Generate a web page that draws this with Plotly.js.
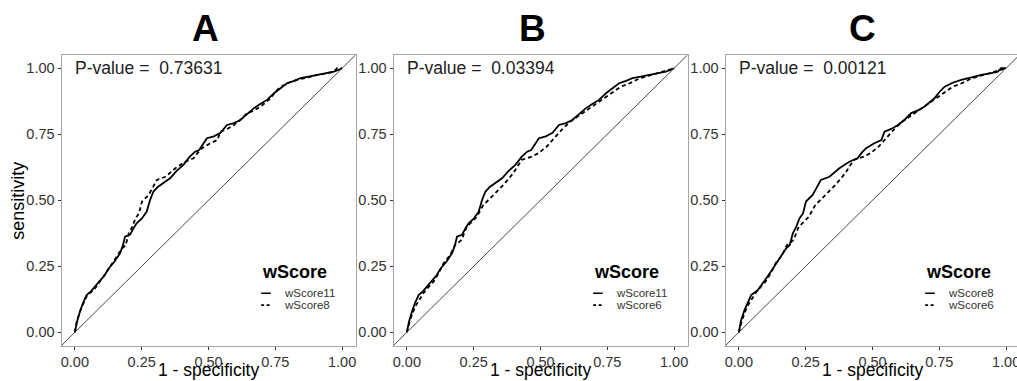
<!DOCTYPE html>
<html><head><meta charset="utf-8">
<script src="https://cdn.plot.ly/plotly-3.0.1.min.js"></script>
<style>html,body{margin:0;padding:0;overflow:hidden;background:#fff}#chart{width:1030px;height:381px}</style>
</head><body><div id="chart"></div>
<script>
// ---- data ----
const panelLabels = ["A", "B", "C"];
const pValues = ["0.73631", "0.03394", "0.00121"];
const solidSeries = ["wScore11", "wScore11", "wScore8"];
const dashedSeries = ["wScore8", "wScore6", "wScore6"];

const wScore11_fpr = [0, 0.008, 0.019, 0.03, 0.044, 0.06, 0.075, 0.09, 0.112, 0.125, 0.137, 0.15, 0.169, 0.18, 0.1875, 0.206, 0.22, 0.231, 0.25, 0.269, 0.281, 0.294, 0.31, 0.33, 0.356, 0.38, 0.406, 0.43, 0.45, 0.465, 0.48, 0.494, 0.52, 0.545, 0.569, 0.595, 0.619, 0.645, 0.669, 0.695, 0.719, 0.745, 0.769, 0.794, 0.82, 0.844, 0.875, 0.906, 0.94, 0.969, 0.99, 1];
const wScore11_tpr = [0, 0.04, 0.078, 0.11, 0.141, 0.155, 0.173, 0.19, 0.217, 0.24, 0.255, 0.27, 0.299, 0.33, 0.362, 0.369, 0.395, 0.413, 0.43, 0.457, 0.50, 0.533, 0.55, 0.565, 0.583, 0.61, 0.634, 0.665, 0.684, 0.69, 0.715, 0.735, 0.742, 0.755, 0.785, 0.792, 0.804, 0.825, 0.848, 0.865, 0.88, 0.905, 0.924, 0.943, 0.952, 0.962, 0.968, 0.975, 0.98, 0.987, 0.995, 1];

const wScore8_fpr = [0, 0.008, 0.021, 0.035, 0.046, 0.071, 0.09, 0.102, 0.12, 0.139, 0.16, 0.177, 0.19, 0.202, 0.215, 0.227, 0.24, 0.251, 0.276, 0.29, 0.307, 0.339, 0.376, 0.413, 0.444, 0.46, 0.476, 0.505, 0.533, 0.545, 0.57, 0.595, 0.62, 0.645, 0.67, 0.695, 0.732, 0.75, 0.77, 0.8, 0.832, 0.87, 0.907, 0.94, 0.969, 0.981, 1];
const wScore8_tpr = [0, 0.045, 0.084, 0.12, 0.141, 0.16, 0.185, 0.204, 0.23, 0.261, 0.29, 0.318, 0.33, 0.375, 0.40, 0.432, 0.45, 0.495, 0.52, 0.545, 0.577, 0.589, 0.621, 0.646, 0.659, 0.68, 0.697, 0.715, 0.728, 0.76, 0.77, 0.785, 0.805, 0.83, 0.84, 0.855, 0.886, 0.91, 0.93, 0.945, 0.956, 0.965, 0.975, 0.98, 0.987, 1.0, 1];

const wScore6_fpr = [0, 0.012, 0.031, 0.045, 0.062, 0.08, 0.1, 0.12, 0.137, 0.162, 0.18, 0.205, 0.224, 0.245, 0.262, 0.286, 0.305, 0.324, 0.361, 0.398, 0.415, 0.43, 0.467, 0.492, 0.523, 0.55, 0.585, 0.615, 0.648, 0.68, 0.71, 0.74, 0.772, 0.8, 0.834, 0.872, 0.9, 0.934, 0.97, 1];
const wScore6_tpr = [0, 0.047, 0.097, 0.12, 0.148, 0.17, 0.192, 0.225, 0.261, 0.293, 0.33, 0.35, 0.40, 0.42, 0.438, 0.482, 0.50, 0.52, 0.558, 0.602, 0.63, 0.653, 0.665, 0.678, 0.703, 0.735, 0.773, 0.80, 0.823, 0.845, 0.867, 0.89, 0.911, 0.93, 0.943, 0.962, 0.97, 0.981, 0.99, 1];

const tickVals = [0, 0.25, 0.5, 0.75, 1];
const tickText = ["0.00", "0.25", "0.50", "0.75", "1.00"];
const legendTitle = "wScore";
const xTitle = "1 - specificity";
const yTitle = "sensitivity";

// ---- build ----
const curves = {
  wScore11: {x: wScore11_fpr, y: wScore11_tpr},
  wScore8: {x: wScore8_fpr, y: wScore8_tpr},
  wScore6: {x: wScore6_fpr, y: wScore6_tpr}
};
const W = 1030, H = 381;
const FONT = "Liberation Sans, Arial, Helvetica, sans-serif";
const axisRange = [-0.05, 1.05];
const boxesPx = [[61.5, 355.5], [393.5, 687.5], [725.5, 1019.5]];
const titleCentersPx = [205, 532, 862];
const yDomain = [(H - 345.5) / H, (H - 55) / H];
const dashStyle = "4px,3px";

const traces = [];
const layout = {
  width: W, height: H,
  margin: {l: 0, r: 0, t: 0, b: 0},
  paper_bgcolor: "#fff", plot_bgcolor: "#fff",
  showlegend: false,
  font: {family: FONT, color: "#333"},
  annotations: [], shapes: []
};

panelLabels.forEach((lab, i) => {
  const sfx = i === 0 ? "" : String(i + 1);
  const xa = "x" + sfx, ya = "y" + sfx;
  const s = curves[solidSeries[i]], d = curves[dashedSeries[i]];
  traces.push({x: s.x, y: s.y, xaxis: xa, yaxis: ya, type: "scatter", mode: "lines",
    name: solidSeries[i], line: {color: "#000", width: 1.8}});
  traces.push({x: d.x, y: d.y, xaxis: xa, yaxis: ya, type: "scatter", mode: "lines",
    name: dashedSeries[i], line: {color: "#000", width: 1.8, dash: dashStyle}});

  const common = {
    range: axisRange, tickvals: tickVals, ticktext: tickText,
    ticks: "outside", ticklen: 3, tickwidth: 1, tickcolor: "#333",
    showline: true, mirror: true, linecolor: "#a6a6a6", linewidth: 1,
    showgrid: false, zeroline: false, fixedrange: true,
    tickfont: {family: FONT, size: 14.5, color: "#333"}
  };
  layout["xaxis" + sfx] = Object.assign({}, common, {
    domain: [boxesPx[i][0] / W, boxesPx[i][1] / W], anchor: ya
  });
  layout["yaxis" + sfx] = Object.assign({}, common, {domain: yDomain, anchor: xa});

  // diagonal reference line
  layout.shapes.push({type: "line", xref: xa, yref: ya,
    x0: axisRange[0], y0: axisRange[0], x1: axisRange[1], y1: axisRange[1],
    line: {color: "#333", width: 0.9}});

  // panel letter
  layout.annotations.push({xref: "paper", yref: "paper", x: titleCentersPx[i] / W, y: (H - 28.5) / H,
    xanchor: "center", yanchor: "middle", showarrow: false,
    text: "<b>" + lab + "</b>", font: {family: FONT, size: 37, color: "#000"}});

  // x-axis title
  layout.annotations.push({xref: xa + " domain", yref: "paper", x: 0.5, y: 0, xanchor: "center", yanchor: "bottom",
    yshift: -1, showarrow: false, text: xTitle, font: {family: FONT, size: 17.5, color: "#000"}});

  // p-value
  layout.annotations.push({xref: xa, yref: ya, x: 0, y: 1, xanchor: "left", yanchor: "middle",
    xshift: -2, showarrow: false, text: "P-value =\u00a0 " + pValues[i],
    font: {family: FONT, size: 17.5, color: "#222"}});

  // legend (drawn in panel data coordinates)
  layout.annotations.push({xref: xa, yref: ya, x: 0.693, y: 0.228, xanchor: "left", yanchor: "middle",
    showarrow: false, text: "<b>" + legendTitle + "</b>", font: {family: FONT, size: 18, color: "#000"}});
  [[solidSeries[i], 0.148, "solid"], [dashedSeries[i], 0.103, "3px,2.5px"]].forEach(([nm, yy, dash]) => {
    layout.shapes.push({type: "line", xref: xa, yref: ya, x0: 0.697, x1: 0.733, y0: yy, y1: yy,
      line: {color: "#000", width: 1.6, dash: dash}});
    layout.annotations.push({xref: xa, yref: ya, x: 0.776, y: yy, xanchor: "left", yanchor: "middle",
      showarrow: false, text: nm, font: {family: FONT, size: 11.5, color: "#333"}});
  });
});

// y-axis title (only on the first panel)
layout.annotations.push({xref: "paper", yref: "y", x: 18.5 / W, y: 0.5, xanchor: "center", yanchor: "middle",
  textangle: -90, showarrow: false, text: yTitle, font: {family: FONT, size: 18, color: "#000"}});

Plotly.newPlot("chart", traces, layout, {displayModeBar: false, staticPlot: true});
</script>
</body></html>
